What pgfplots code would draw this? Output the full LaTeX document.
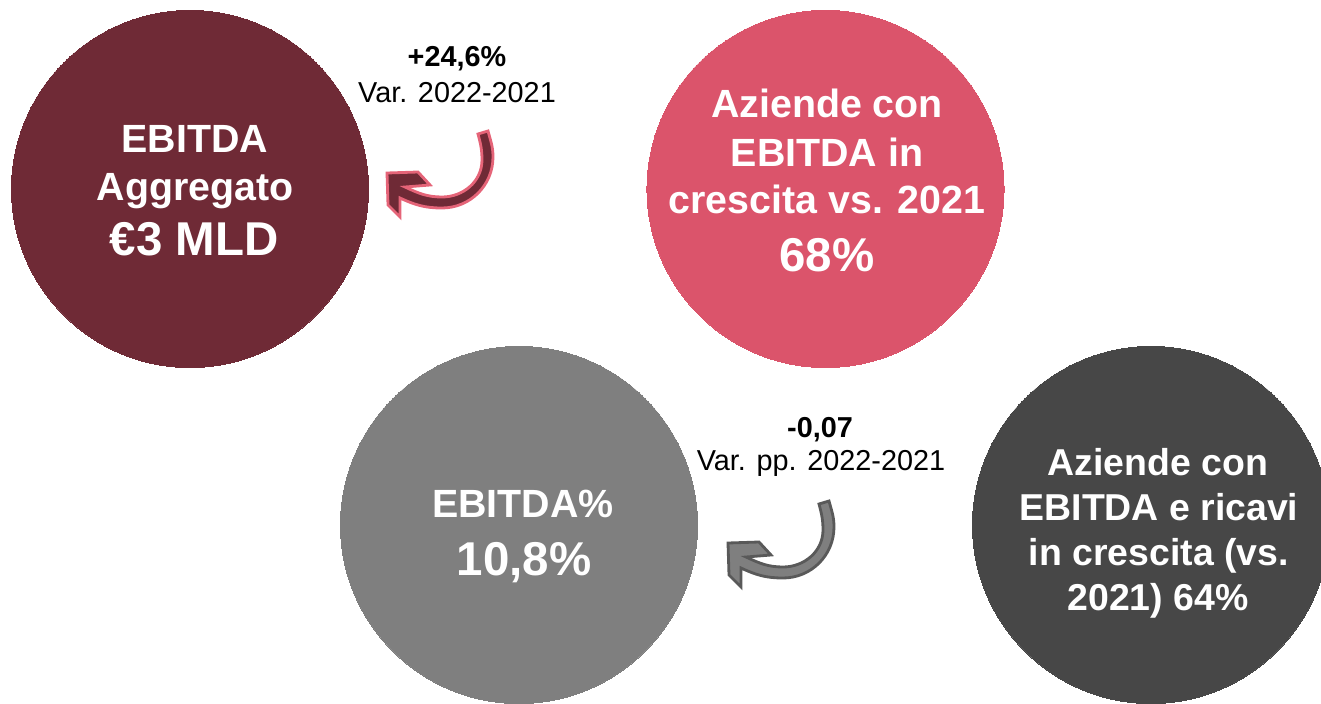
\documentclass[border=0pt]{standalone}
\usepackage{pgfplots}
\pgfplotsset{compat=1.18}
\usepackage{fontspec}
\setmainfont{Liberation Sans}
\definecolor{cmaroon}{RGB}{111,42,54}
\definecolor{cpink}{RGB}{219,84,107}
\definecolor{cgrey}{RGB}{127,127,127}
\definecolor{cdark}{RGB}{71,71,71}
\definecolor{cpinkline}{RGB}{229,100,120}
\definecolor{cgreyline}{RGB}{89,89,89}
\newcommand{\smallfont}{\fontsize{11.2}{13}\selectfont\bfseries}
\newcommand{\smallerfont}{\fontsize{10.65}{13}\selectfont\bfseries}
\newcommand{\bigfont}{\fontsize{13.5}{16}\selectfont\bfseries}
\newcommand{\notefont}{\fontsize{8.2}{10}\selectfont}
\begin{document}
\begin{tikzpicture}[trim left=0pt, trim right=13.21cm]
\path (0,0) rectangle (13.21cm,7.03cm);
\begin{axis}[
  at={(0,0)}, anchor=south west,
  width=13.21cm, height=7.03cm, scale only axis,
  xmin=0, xmax=1321, ymin=0, ymax=703,
  hide axis, clip=true, clip marker paths=true,
]
% circles: (x, y) centres in pixel units (y upwards)
\addplot[color=cmaroon, only marks, mark=*, mark size=50.8pt, mark options={fill=cmaroon, draw=cmaroon, line width=0pt}] coordinates {(190,514)};
\addplot[color=cpink, only marks, mark=*, mark size=50.8pt, mark options={fill=cpink, draw=cpink, line width=0pt}] coordinates {(825.5,514)};
\addplot[color=cgrey, only marks, mark=*, mark size=50.8pt, mark options={fill=cgrey, draw=cgrey, line width=0pt}] coordinates {(519,178)};
\addplot[color=cdark, only marks, mark=*, mark size=50.8pt, mark options={fill=cdark, draw=cdark, line width=0pt}] coordinates {(1151,178)};

% curved arrows
\filldraw[fill=cmaroon, draw=cpinkline, line width=0.8pt, line join=miter]
 (axis cs:488,572) to[out=-75,in=90] (axis cs:493,546)
 to[out=-90,in=0] (axis cs:442,495)
 to[out=180,in=-25] (axis cs:400,505)
 -- (axis cs:400,486) -- (axis cs:388,498) -- (axis cs:387,530)
 -- (axis cs:418,531) -- (axis cs:430,518) -- (axis cs:405,516)
 to[out=-25,in=180] (axis cs:442,506)
 to[out=0,in=-90] (axis cs:482,543)
 to[out=90,in=-75] (axis cs:478,569) -- cycle;
\filldraw[fill=cgrey, draw=cgreyline, line width=0.8pt, line join=miter]
 (axis cs:829,202) to[out=-75,in=90] (axis cs:834,176)
 to[out=-90,in=0] (axis cs:783,125)
 to[out=180,in=-25] (axis cs:741,135)
 -- (axis cs:741,116) -- (axis cs:729,128) -- (axis cs:728,160)
 -- (axis cs:759,161) -- (axis cs:771,148) -- (axis cs:746,146)
 to[out=-25,in=180] (axis cs:783,136)
 to[out=0,in=-90] (axis cs:823,173)
 to[out=90,in=-75] (axis cs:819,199) -- cycle;

% circle 1
\node[anchor=base, inner sep=0, text=white, font=\smallfont] at (axis cs:195,551) {EBITDA};
\node[anchor=base, inner sep=0, text=white, font=\smallfont] at (axis cs:195,503) {Aggregato};
\node[anchor=base, inner sep=0, text=white, font=\bigfont] at (axis cs:194,448) {€3 MLD};
% circle 2
\node[anchor=base, inner sep=0, text=white, font=\smallfont] at (axis cs:827,585) {Aziende con};
\node[anchor=base, inner sep=0, text=white, font=\smallfont] at (axis cs:827,536) {EBITDA in};
\node[anchor=base, inner sep=0, text=white, font=\smallfont] at (axis cs:827,490) {crescita vs. 2021};
\node[anchor=base, inner sep=0, text=white, font=\bigfont] at (axis cs:827,432) {68\%};
% circle 3
\node[anchor=base, inner sep=0, text=white, font=\smallfont] at (axis cs:523,186) {EBITDA\%};
\node[anchor=base, inner sep=0, text=white, font=\bigfont] at (axis cs:524,128) {10,8\%};
% circle 4
\node[anchor=base, inner sep=0, text=white, font=\smallerfont] at (axis cs:1158,228) {Aziende con};
\node[anchor=base, inner sep=0, text=white, font=\smallerfont] at (axis cs:1159,183) {EBITDA e ricavi};
\node[anchor=base, inner sep=0, text=white, font=\smallerfont] at (axis cs:1159,138) {in crescita (vs.};
\node[anchor=base, inner sep=0, text=white, font=\smallerfont] at (axis cs:1158,93) {2021) 64\%};
% annotations
\node[anchor=base, inner sep=0, font=\notefont\bfseries] at (axis cs:457,636) {+24,6\%};
\node[anchor=base, inner sep=0, font=\notefont] at (axis cs:457,601) {Var. 2022-2021};
\node[anchor=base, inner sep=0, font=\notefont\bfseries] at (axis cs:820,266) {-0,07};
\node[anchor=base, inner sep=0, font=\notefont] at (axis cs:821,233) {Var. pp. 2022-2021};
\end{axis}
\end{tikzpicture}
\end{document}
